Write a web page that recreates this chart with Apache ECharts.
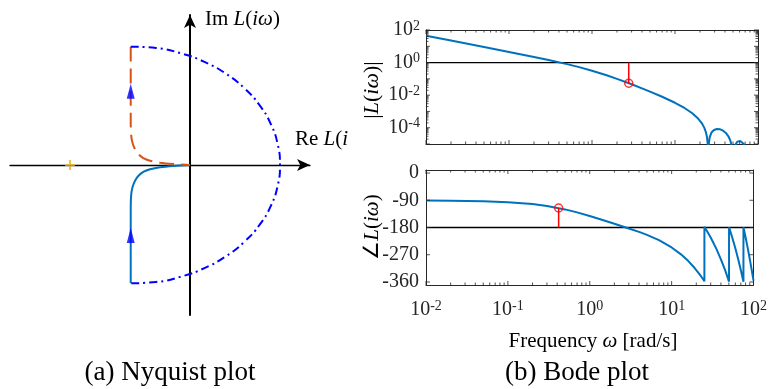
<!DOCTYPE html>
<html>
<head>
<meta charset="utf-8">
<script src="https://cdn.jsdelivr.net/npm/echarts@6.0.0/dist/echarts.min.js"></script>
<style>
html,body{margin:0;padding:0;background:#ffffff;}
#chart{width:770px;height:389px;}
</style>
</head>
<body>
<div id="chart"></div>
<script>
// ---------------- Nyquist plot data (Re L, Im L) ----------------
const nyqPosRe = [-0.494, -0.494, -0.489, -0.478, -0.458, -0.431, -0.389, -0.333, -0.25, -0.139, 0];
const nyqPosIm = [-0.986, -0.348, -0.236, -0.181, -0.131, -0.092, -0.058, -0.036, -0.019, -0.008, 0];
const nyqNegRe = [-0.494, -0.494, -0.489, -0.478, -0.458, -0.431, -0.389, -0.333, -0.25, -0.139, 0];
const nyqNegIm = [0.986, 0.348, 0.236, 0.181, 0.131, 0.092, 0.058, 0.036, 0.019, 0.008, 0];
const nyqInfRe = [-0.494, -0.283, -0.0725, 0.125, 0.3035, 0.4575, 0.5825, 0.6746, 0.731, 0.75,
                  0.731, 0.6746, 0.5825, 0.4575, 0.3035, 0.125, -0.0725, -0.283, -0.494];
const nyqInfIm = [0.986, 0.975, 0.930, 0.857, 0.758, 0.636, 0.495, 0.339, 0.172, 0,
                  -0.172, -0.339, -0.495, -0.636, -0.758, -0.857, -0.930, -0.975, -0.986];
const nyqArrowRe = [-0.494, -0.494];
const nyqArrowIm = [-0.588, 0.614];
const criticalRe = [-1];
const criticalIm = [0];

// ---------------- Bode plot data ----------------
const magFreq = [0.01, 0.02, 0.05, 0.1, 0.2, 0.3, 0.5, 0.7, 1, 1.5, 2, 3, 4, 5, 7, 10, 13, 16, 19, 21,
                 22.5, 23.5, 24.3, 24.8, 25.13, 25.5, 26.2, 27.5, 29.5, 32, 35, 38, 41, 44, 46.5, 48.5,
                 50.27, 52, 53.5, 54.3, 55, 56.5, 58, 61, 64, 67, 68.5, 71, 75.4, 85, 100];
const magValue = [45.0, 22.5, 8.99, 4.48, 2.21, 1.44, 0.804, 0.526, 0.317, 0.165, 0.0996, 0.0463, 0.0262,
                  0.0165, 0.00798, 0.00340, 0.00163, 0.000798, 0.000363, 0.000192,
                  0.000101, 5.61e-5, 2.60e-5, 9.8e-6, 1e-8, 9.96e-6, 2.66e-5, 5.07e-5, 7.29e-5, 8.31e-5,
                  7.92e-5, 6.55e-5, 4.79e-5, 2.98e-5, 1.60e-5, 6.9e-6,
                  1e-8, 5.5e-6, 9.24e-6, 1.08e-5, 1.21e-5, 1.40e-5, 1.52e-5, 1.54e-5, 1.36e-5, 1.04e-5,
                  8.5e-6, 5.3e-6, 1e-8, 5.5e-6, 2.4e-7];
const phaseFreq = [0.01, 0.02, 0.05, 0.1, 0.2, 0.3, 0.5, 0.7, 1, 1.5, 2, 3, 4, 5, 7, 10, 13, 16, 19, 22, 24,
                   25.13, 25.14, 27, 30, 35, 40, 45, 50.26, 50.27, 55, 60, 65, 70, 75.39, 75.4,
                   80, 85, 90, 95, 100];
const phaseValue = [-90.6, -91.3, -93.2, -96.4, -102.7, -108.9, -120.2, -130.0, -142.2, -157.1, -167.8,
                    -183.1, -194.6, -204.5, -222.0, -245.9, -268.7, -291.0, -313.1, -335.0, -349.5,
                    -357.7, -177.7, -191.3, -213.0, -249.0, -285.1, -321.0, -358.8, -178.8,
                    -212.9, -248.8, -284.7, -320.5, -359.2, -179.2,
                    -212.2, -248.1, -283.9, -319.8, -355.6];
const unityGain = 1;
const phaseRef = -180;
const gmFreq = [2.77];
const gmMag = [0.0537];
const pmFreq = [0.417];
const pmPhase = [-115.6];

// ---------------- ticks ----------------
const freqDecades = [0.01, 0.1, 1, 10, 100];
const magDecades = [1e-5, 1e-4, 1e-3, 1e-2, 1e-1, 1, 10, 100];
const magLabelTicks = [1e-4, 1e-2, 1, 100];
const phaseTicks = [0, -90, -180, -270, -360];
const minorMultipliers = [2, 3, 4, 5, 6, 7, 8, 9];
const freqRange = [0.01, 100];
const magRange = [1e-5, 100];
const phaseRange = [-370, 10];

function minorsOf(decades) {
  const out = [];
  for (let i = 0; i < decades.length - 1; i++) {
    minorMultipliers.forEach(m => out.push(+(decades[i] * m).toPrecision(6)));
  }
  return out;
}
const freqMinorTicks = minorsOf(freqDecades);
const magMinorTicks = minorsOf(magDecades);

function zip(a, b) { return a.map((v, i) => [v, b[i]]); }

const FRAME = '#262626';
const SERIF = 'Liberation Serif';
const supRich = {
  b: { fontFamily: SERIF, fontSize: 20, color: FRAME, lineHeight: 22 },
  s: { fontFamily: SERIF, fontSize: 14, color: FRAME, lineHeight: 12, verticalAlign: 'top' }
};
function supLabel(v) {
  const e = Math.round(Math.log10(v));
  return '{b|10}{s|' + e + '}';
}
const frameLine = { color: FRAME, width: 1 };

function logX(grid, pos, labels) {
  return {
    gridIndex: grid, type: 'log', logBase: 10, min: freqRange[0], max: freqRange[1], position: pos,
    axisLine: { show: true, onZero: false, lineStyle: frameLine },
    axisTick: { show: false },
    axisLabel: labels ? { show: true, customValues: labels, formatter: supLabel, rich: supRich, margin: 14 } : { show: false },
    splitLine: { show: false }
  };
}
function logY(grid, pos, labels) {
  return {
    gridIndex: grid, type: 'log', logBase: 10, min: magRange[0], max: magRange[1], position: pos,
    axisLine: { show: true, onZero: false, lineStyle: frameLine },
    axisTick: { show: false },
    axisLabel: labels ? { show: true, customValues: labels, formatter: supLabel, rich: supRich, margin: 6 } : { show: false },
    splitLine: { show: false }
  };
}
function phaseY(pos, labels) {
  return {
    gridIndex: 2, type: 'value', min: phaseRange[0], max: phaseRange[1], position: pos,
    axisLine: { show: true, onZero: false, lineStyle: frameLine },
    axisTick: { show: false },
    axisLabel: labels ? { show: true, customValues: phaseTicks, fontFamily: SERIF, fontSize: 20, color: FRAME, margin: 7 } : { show: false },
    splitLine: { show: false }
  };
}
// tick marks drawn as short rect symbols placed on the frame by the axes' own scales
function tickMarks(xi, yi, pts, size, offset) {
  return { type: 'scatter', xAxisIndex: xi, yAxisIndex: yi, data: pts, symbol: 'rect', symbolSize: size,
           symbolOffset: offset, clip: false, silent: true, itemStyle: { color: FRAME }, z: 6 };
}
function frameTicks(xi, yi, xMajor, xMinor, xR, yMajor, yMinor, yR) {
  const M = 4, m = 2.5;
  return [
    tickMarks(xi, yi, xMajor.map(v => [v, yR[0]]), [1, M], [0, -M / 2]),
    tickMarks(xi, yi, xMajor.map(v => [v, yR[1]]), [1, M], [0, M / 2]),
    tickMarks(xi, yi, xMinor.map(v => [v, yR[0]]), [1, m], [0, -m / 2]),
    tickMarks(xi, yi, xMinor.map(v => [v, yR[1]]), [1, m], [0, m / 2]),
    tickMarks(xi, yi, yMajor.map(v => [xR[0], v]), [M, 1], [M / 2, 0]),
    tickMarks(xi, yi, yMajor.map(v => [xR[1], v]), [M, 1], [-M / 2, 0]),
    tickMarks(xi, yi, yMinor.map(v => [xR[0], v]), [m, 1], [m / 2, 0]),
    tickMarks(xi, yi, yMinor.map(v => [xR[1], v]), [m, 1], [-m / 2, 0])
  ];
}

const chart = echarts.init(document.getElementById('chart'), null, { renderer: 'canvas' });

const rmS = { fontFamily: SERIF, fontSize: 21, color: '#000' };
const itS = { fontFamily: SERIF, fontSize: 21, color: '#000', fontStyle: 'italic' };
const rm = { fontFamily: SERIF, fontSize: 21, color: '#000' };
const it = { fontFamily: SERIF, fontSize: 21, color: '#000', fontStyle: 'italic' };
const rmY = { fontFamily: SERIF, fontSize: 22, color: '#000' };
const itY = { fontFamily: SERIF, fontSize: 22, color: '#000', fontStyle: 'italic' };

const option = {
  animation: false,
  backgroundColor: '#ffffff',
  grid: [
    { left: 10, top: 15, width: 300, height: 300 },
    { left: 426, top: 30, width: 332, height: 114 },
    { left: 426, top: 170, width: 332, height: 115 }
  ],
  xAxis: [
    { gridIndex: 0, type: 'value', min: -1.5, max: 1.0,
      axisLine: { show: true, onZero: true, symbol: ['none', 'arrow'], symbolSize: [9, 13], lineStyle: { color: '#000', width: 1.3 } },
      axisTick: { show: false }, axisLabel: { show: false }, splitLine: { show: false } },
    logX(1, 'bottom', null),
    logX(1, 'top', null),
    logX(2, 'bottom', freqDecades),
    logX(2, 'top', null)
  ],
  yAxis: [
    { gridIndex: 0, type: 'value', min: -1.25, max: 1.25,
      axisLine: { show: true, onZero: true, symbol: ['none', 'arrow'], symbolSize: [9, 13], lineStyle: { color: '#000', width: 2 } },
      axisTick: { show: false }, axisLabel: { show: false }, splitLine: { show: false } },
    logY(1, 'left', magLabelTicks),
    logY(1, 'right', null),
    phaseY('left', true),
    phaseY('right', false)
  ],
  series: [
    { type: 'line', xAxisIndex: 0, yAxisIndex: 0, data: zip(nyqPosRe, nyqPosIm), smooth: 0.3, symbol: 'none',
      lineStyle: { color: '#0072BD', width: 2 }, z: 3 },
    { type: 'line', xAxisIndex: 0, yAxisIndex: 0, data: zip(nyqNegRe, nyqNegIm), smooth: 0.3, symbol: 'none',
      lineStyle: { color: '#D95319', width: 2, type: [15, 7] }, z: 3 },
    { type: 'line', xAxisIndex: 0, yAxisIndex: 0, data: zip(nyqInfRe, nyqInfIm), smooth: true, symbol: 'none',
      lineStyle: { color: '#0000FF', width: 2, type: [8, 4, 2, 4] }, z: 3 },
    { type: 'scatter', xAxisIndex: 0, yAxisIndex: 0, data: zip(nyqArrowRe, nyqArrowIm), symbol: 'triangle',
      symbolSize: [8, 15], itemStyle: { color: '#0000FF' }, z: 5 },
    { type: 'scatter', xAxisIndex: 0, yAxisIndex: 0, data: zip(criticalRe, criticalIm),
      symbol: 'path://M5,0L5,10M0,5L10,5', symbolSize: 10,
      itemStyle: { color: 'none', borderColor: '#EDB120', borderWidth: 2 }, z: 5 },

    { type: 'line', xAxisIndex: 1, yAxisIndex: 1, data: [[freqRange[0], unityGain], [freqRange[1], unityGain]], symbol: 'none',
      lineStyle: { color: '#000', width: 1.3 }, z: 2 },
    { type: 'line', xAxisIndex: 1, yAxisIndex: 1, data: zip(magFreq, magValue), symbol: 'none', clip: true,
      lineStyle: { color: '#0072BD', width: 2 }, z: 3 },
    { type: 'line', xAxisIndex: 1, yAxisIndex: 1, data: [[gmFreq[0], unityGain], [gmFreq[0], gmMag[0]]], symbol: 'none',
      lineStyle: { color: '#FF0000', width: 1.5 }, z: 4 },
    { type: 'scatter', xAxisIndex: 1, yAxisIndex: 1, data: zip(gmFreq, gmMag), symbol: 'circle', symbolSize: 8,
      itemStyle: { color: 'none', borderColor: '#FF0000', borderWidth: 1.5 }, z: 5 },

    { type: 'line', xAxisIndex: 3, yAxisIndex: 3, data: [[freqRange[0], phaseRef], [freqRange[1], phaseRef]], symbol: 'none',
      lineStyle: { color: '#000', width: 1.3 }, z: 2 },
    { type: 'line', xAxisIndex: 3, yAxisIndex: 3, data: zip(phaseFreq, phaseValue), symbol: 'none', clip: true,
      lineStyle: { color: '#0072BD', width: 2 }, z: 3 },
    { type: 'line', xAxisIndex: 3, yAxisIndex: 3, data: [[pmFreq[0], phaseRef], [pmFreq[0], pmPhase[0]]], symbol: 'none',
      lineStyle: { color: '#FF0000', width: 1.5 }, z: 4 },
    { type: 'scatter', xAxisIndex: 3, yAxisIndex: 3, data: zip(pmFreq, pmPhase), symbol: 'circle', symbolSize: 8,
      itemStyle: { color: 'none', borderColor: '#FF0000', borderWidth: 1.5 }, z: 5 }
  ].concat(
    frameTicks(1, 1, freqDecades, freqMinorTicks, freqRange, magDecades, magMinorTicks, magRange),
    frameTicks(3, 3, freqDecades, freqMinorTicks, freqRange, phaseTicks, [], phaseRange)
  ),
  graphic: [
    { type: 'text', x: 205, y: 19, z: 10,
      style: { text: '{r|Im }{i|L}{r|(}{i|iω}{r|)}', rich: { r: rmS, i: itS }, align: 'left', verticalAlign: 'middle' } },
    { type: 'text', x: 295, y: 139, z: 10,
      style: { text: '{r|Re }{i|L}{r|(}{i|iω}{r|)}', rich: { r: rmS, i: itS }, align: 'left', verticalAlign: 'middle' } },
    { type: 'rect', z: 20, shape: { x: 348, y: 127, width: 44, height: 25 }, style: { fill: '#ffffff' } },
    { type: 'text', x: 372, y: 90, rotation: Math.PI / 2, z: 10,
      style: { text: '{r||}{i|L}{r|(}{i|iω}{r|)|}', rich: { r: rmY, i: itY }, align: 'center', verticalAlign: 'middle' } },
    { type: 'text', x: 372, y: 227, rotation: Math.PI / 2, z: 10,
      style: { text: '{r|∠}{i|L}{r|(}{i|iω}{r|)}', rich: { r: rm, i: it }, align: 'center', verticalAlign: 'middle' } },
    { type: 'text', x: 593, y: 341, z: 10,
      style: { text: '{r|Frequency }{i|ω}{r| [rad/s]}', rich: { r: rm, i: it }, align: 'center', verticalAlign: 'middle' } },
    { type: 'text', x: 170, y: 373, z: 10,
      style: { text: '(a) Nyquist plot', fontFamily: SERIF, fontSize: 27, fill: '#000', align: 'center', verticalAlign: 'middle' } },
    { type: 'text', x: 577, y: 373, z: 10,
      style: { text: '(b) Bode plot', fontFamily: SERIF, fontSize: 27, fill: '#000', align: 'center', verticalAlign: 'middle' } }
  ]
};
chart.setOption(option);
</script>
</body>
</html>
